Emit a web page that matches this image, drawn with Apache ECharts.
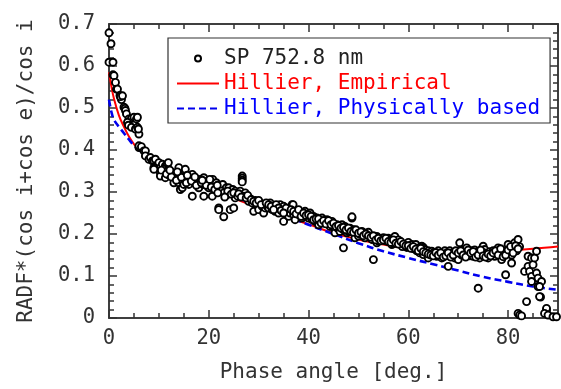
<!DOCTYPE html>
<html><head><meta charset="utf-8">
<script src="https://cdn.jsdelivr.net/npm/echarts@6/dist/echarts.min.js"></script>
<style>html,body{margin:0;padding:0;background:#fff}#c{width:561px;height:389px}</style>
</head><body><div id="c"></div>
<script>
const phaseRange = [0, 90];
const radfRange = [0, 0.7];
const seriesNames = ['SP 752.8 nm', 'Hillier, Empirical', 'Hillier, Physically based'];
const xTitle = 'Phase angle [deg.]';
const yTitle = 'RADF*(cos i+cos e)/cos i';

// observed points [phase angle, RADF*(cos i+cos e)/cos i]
const sp752 = [
[0,0.679],[0.4,0.653],[0,0.609],[0.8,0.609],[0.8,0.579],[1,0.577],[1.3,0.561],[1.5,0.545],[1.7,0.545],[2.2,0.53],[2.4,0.524],[2.5,0.52],[2.3,0.527],[2.7,0.529],
[3,0.502],[3.2,0.499],[3.3,0.494],[3.5,0.486],[4,0.474],[4.5,0.475],[5,0.478],[5.5,0.474],[5.7,0.478],[3.7,0.466],[3.9,0.459],[4.5,0.454],[5.3,0.45],[5.7,0.454],[6,0.438],[5.9,0.45],
[6,0.406],[6,0.41],[6.5,0.408],[7,0.398],[7.3,0.398],[7.3,0.386],[8,0.378],[8.3,0.382],[8.7,0.374],[9,0.374],[9.3,0.378],[9.3,0.362],[9.7,0.362],[10,0.37],[10.3,0.358],[10.7,0.366],[11.3,0.362],[11.7,0.366],[11.9,0.37],
[9,0.358],[9,0.354],[10.3,0.346],[11,0.35],[11,0.354],[11.3,0.346],[11.7,0.35],[12.3,0.346],[10.3,0.338],[11.3,0.334],[12,0.34],[12.7,0.346],[12.8,0.338],[13.3,0.342],[13.3,0.334],[13.8,0.33],[14,0.342],[14,0.358],
[13,0.322],[14,0.322],[14.3,0.306],[14.7,0.326],[14.7,0.31],[15,0.336],[15,0.318],[15.3,0.33],[15.3,0.354],[15.8,0.328],[16,0.318],[16.3,0.334],[16.3,0.338],[16.7,0.342],[16.7,0.29],[17,0.33],[17.3,0.322],[17.8,0.326],
[18,0.31],[18.3,0.33],[18.8,0.318],[19,0.334],[19,0.29],[19.3,0.322],[19.8,0.326],[20,0.31],[20.3,0.322],[20.7,0.29],[20.8,0.33],[21,0.318],[21.5,0.322],[22,0.31],[22.3,0.314],[22.8,0.318],[23.3,0.306],[23.5,0.31],[23.7,0.294],
[24,0.31],[24.3,0.302],[24.8,0.306],[25.3,0.302],[25.3,0.286],[25.6,0.296],[22,0.262],[22,0.258],[24.3,0.258],[25,0.262],[23,0.241],
[26.7,0.338],[26.7,0.333],[26.7,0.328],[26.7,0.324],[26.3,0.302],[27.3,0.298],[27,0.29],[28,0.278],[28.3,0.284],[28.7,0.274],[29,0.254],[29.3,0.28],[29.7,0.27],[30,0.258],[30.3,0.274],[30.7,0.266],
[31,0.27],[31,0.25],[31.3,0.262],[31.7,0.266],[32,0.262],[32.3,0.274],[32.7,0.258],[33,0.266],[33.3,0.254],[33.7,0.262],[34,0.25],[34.3,0.27],[34.7,0.262],[35,0.23],[35,0.266],[35.3,0.258],[35.7,0.25],
[36,0.242],[36,0.258],[36.3,0.25],[36.7,0.27],[36.9,0.27],[37,0.246],[37.3,0.234],[37.7,0.254],[38,0.246],[38.3,0.25],[38.7,0.238],[39,0.242],[39.3,0.254],[39.7,0.246],[40,0.238],[40.3,0.25],[40.7,0.234],
[41,0.242],[41.3,0.23],[41.7,0.238],[42,0.222],[42.3,0.23],[42.7,0.238],[43,0.226],[43.3,0.23],[43.7,0.234],[44,0.226],[44.3,0.218],[44.7,0.23],[44.7,0.226],[45.3,0.21],[45.3,0.203],[45.7,0.222],[45.7,0.215],
[46,0.212],[46.3,0.206],[46.7,0.222],[47,0.21],[47,0.167],[47.3,0.218],[47.7,0.203],[48,0.206],[48.3,0.214],[48.7,0.238],[48.7,0.241],[49,0.21],[49.3,0.191],[49.7,0.203],[50,0.195],[50.3,0.199],[50.7,0.206],
[51,0.203],[51.3,0.191],[51.7,0.198],[52,0.204],[52.3,0.195],[52.7,0.187],[53,0.139],[53.3,0.19],[53.7,0.194],[53.7,0.179],[54,0.183],[54.3,0.187],[55,0.191],[55.3,0.184],[55.7,0.183],[56,0.19],[56.3,0.187],
[56.7,0.175],[57,0.178],[57.3,0.194],[57.7,0.183],[58,0.186],[58.3,0.179],[58.8,0.17],[59.3,0.175],[59.7,0.168],[60,0.18],[60.3,0.172],[60.7,0.175],[61,0.165],[61.3,0.171],[61.5,0.175],[61.7,0.16],[62,0.167],
[62.3,0.162],[62.3,0.155],[62.7,0.171],[62.8,0.158],[63,0.151],[63,0.168],[63.3,0.163],[64,0.16],[64,0.143],[64.7,0.159],[65,0.155],[65.7,0.147],[66,0.16],[66.3,0.152],[66.7,0.143],[67,0.15],[67.3,0.16],
[67.7,0.155],[68,0.123],[68.3,0.16],[68.7,0.151],[69,0.156],[69.3,0.143],[69.7,0.152],[70,0.139],[70.3,0.179],[70.7,0.15],[71,0.162],[71.3,0.158],[71.7,0.167],[72,0.155],[72.3,0.148],[72.7,0.16],[73,0.147],
[73.3,0.162],[73.7,0.155],[74,0.158],[74,0.071],[74.3,0.143],[74.7,0.15],[75,0.171],[75.3,0.163],[75.3,0.155],[75.7,0.152],[76,0.143],[76.3,0.158],[76.7,0.155],[77,0.16],[77.3,0.147],[77.7,0.152],[78,0.167],
[78.3,0.159],[78.7,0.139],[79,0.155],[79.5,0.103],[79.7,0.16],[80,0.175],[80.3,0.155],[80.7,0.131],[80.7,0.15],[81,0.167],[81.3,0.179],[81.7,0.16],[82,0.187],[82.3,0.17],
[82,0.011],[82.3,0.007],[82.7,0.005],[83.7,0.039],[83.3,0.111],[84,0.123],[84,0.147],[84.3,0.111],[84.7,0.099],[84.7,0.143],[85,0.127],[85.3,0.143],[84.7,0.087],[85.7,0.107],[85.7,0.159],
[86,0.095],[86,0.075],[86.7,0.087],[86.3,0.075],[86.5,0.05],[86.3,0.051],[87.7,0.019],[87.7,0.023],[87.3,0.011],[88,0.007],[89,0.003],[89.7,0.003],
[10.5,0.352],[11.5,0.343],[12.5,0.336],[13.5,0.328],[14.5,0.335],[15.5,0.322],[16.5,0.326],[17.5,0.316],[18.5,0.322],[19.5,0.316],[20.5,0.312],[21.2,0.306],[12.2,0.352],[13.7,0.348],[15.7,0.34],[17.2,0.336],[18.7,0.328],[20.2,0.33],[21.7,0.316],
[22.5,0.302],[23,0.298],[23.8,0.302],[24.5,0.295],[25,0.298],[25.8,0.29],[26,0.296],[26.5,0.288],[27.5,0.286],[27.8,0.292],[28.5,0.282],[29,0.278],[29.5,0.274],[30,0.28],[21.8,0.298],[23.2,0.288],
[30.5,0.27],[31.5,0.274],[32,0.27],[32.5,0.266],[33.5,0.27],[34,0.262],[34.5,0.256],[35.5,0.262],[36.5,0.258],[37,0.254],[37.5,0.248],[38,0.258],[38.5,0.242],[39,0.25],[39.5,0.244],[40,0.246],[33,0.258],[35,0.25],
[40.5,0.242],[41,0.234],[41.5,0.236],[42,0.236],[42.5,0.226],[43,0.232],[43.5,0.224],[44,0.232],[44.5,0.222],[45,0.226],[45.5,0.218],[46,0.22],[46.5,0.214],[47,0.216],[47.5,0.21],[48,0.214],[48.5,0.206],[49,0.204],[49.5,0.21],[50,0.202],
[50.5,0.205],[51,0.196],[51.5,0.2],[52,0.196],[52.5,0.192],[53,0.196],[53.5,0.186],[54,0.19],[54.5,0.184],[55,0.186],[55.5,0.19],[56,0.182],[56.5,0.18],[57,0.186],[57.5,0.178],[58,0.176],[58.5,0.182],[59,0.176],[59.5,0.172],[60,0.172],
[60.5,0.166],[61,0.17],[61.5,0.164],[62,0.16],[62.5,0.166],[63,0.158],[63.5,0.155],[64,0.152],[64.5,0.15],[65,0.148],[65.5,0.156],[66,0.15],[66.5,0.155],[67,0.145],[67.5,0.148],[68,0.155],[68.5,0.145],[69,0.15],[69.5,0.16],[70,0.155],
[70.5,0.16],[71,0.15],[71.5,0.145],[72,0.162],[72.5,0.155],[73,0.158],[73.5,0.145],[74,0.15],[74.5,0.162],[75,0.148],[75.5,0.145],[76,0.152],[76.5,0.148],[77,0.155],[77.5,0.16],[78,0.15],[78.5,0.165],[79,0.146],[79.5,0.15],[80,0.162],[80.5,0.17],[81,0.155],[81.5,0.172],[82,0.165]
];

// model curves [phase angle, value]
const hillierEmpirical = [
[0,0.585],[0.5,0.55],[1,0.522],[2,0.482],[3,0.455],[4,0.432],[5,0.414],[6,0.401],[7,0.39],[8,0.381],[10,0.367],[12,0.354],[14,0.342],[16,0.33],
[18,0.318],[20,0.308],[25,0.285],[30,0.263],[35,0.243],[40,0.223],[45,0.202],[50,0.187],[55,0.175],[60,0.165],[65,0.159],[70,0.157],[75,0.158],[80,0.161],[85,0.165],[90,0.17]
];
const hillierPhysical = [
[0,0.52],[0.5,0.49],[1,0.472],[2,0.455],[3,0.44],[4,0.425],[5,0.411],[6,0.4],[7,0.391],[8,0.383],[10,0.369],[12,0.358],[15,0.341],[20,0.314],
[25,0.29],[30,0.267],[35,0.245],[40,0.222],[45,0.2],[50,0.178],[55,0.159],[60,0.143],[65,0.128],[70,0.113],[75,0.098],[80,0.086],[85,0.075],[90,0.067]
];

const FONT = 'DejaVu Sans Mono';
const AX = '#333';
const chart = echarts.init(document.getElementById('c'), null, {renderer: 'canvas'});

function xAx(pos, interval, len, labels) {
  return {
    type: 'value', gridIndex: 0, position: pos, min: phaseRange[0], max: phaseRange[1], interval: interval,
    axisLine: {show: true, onZero: false, lineStyle: {color: AX, width: 1.5}},
    axisTick: {show: true, inside: true, length: len, lineStyle: {color: AX, width: 1.5}},
    splitLine: {show: false},
    axisLabel: labels ? {
      show: true, margin: 10, color: '#333', fontFamily: FONT, fontSize: 20.5,
      formatter: v => (Math.abs(v / 20 - Math.round(v / 20)) < 1e-6 ? String(Math.round(v)) : '')
    } : {show: false}
  };
}
function yAx(pos, interval, len, labels) {
  return {
    type: 'value', gridIndex: 0, position: pos, min: radfRange[0], max: radfRange[1], interval: interval,
    axisLine: {show: true, onZero: false, lineStyle: {color: AX, width: 1.5}},
    axisTick: {show: true, inside: true, length: len, lineStyle: {color: AX, width: 1.5}},
    splitLine: {show: false},
    axisLabel: labels ? {
      show: true, margin: 14, color: '#333', fontFamily: FONT, fontSize: 20.5, padding: [0, 0, 12, 0],
      formatter: v => (Math.abs(v * 10 - Math.round(v * 10)) < 1e-6 ? String(Math.round(v * 10) / 10) : '')
    } : {show: false}
  };
}

const xMain = xAx('bottom', 5, 5, true);
xMain.name = xTitle; xMain.nameLocation = 'middle'; xMain.nameGap = 44;
xMain.nameTextStyle = {fontFamily: FONT, fontSize: 21, color: '#333'};
const yMain = yAx('left', 0.02, 5, true);
yMain.name = yTitle; yMain.nameLocation = 'middle'; yMain.nameGap = 72;
yMain.nameTextStyle = {fontFamily: FONT, fontSize: 21, color: '#333'};

const option = {
  animation: false,
  backgroundColor: '#fff',
  grid: {left: 109, top: 24, width: 451, height: 294, containLabel: false},
  xAxis: [xMain, xAx('bottom', 20, 8, false), xAx('top', 5, 5, false), xAx('top', 20, 8, false)],
  yAxis: [yMain, yAx('left', 0.1, 8, false), yAx('right', 0.02, 5, false), yAx('right', 0.1, 8, false)],
  legend: {
    orient: 'vertical', left: 168, top: 38, itemWidth: 42, itemHeight: 6, itemGap: 0,
    padding: [8, 10, 2, 8], borderColor: '#333', borderWidth: 1.2, backgroundColor: '#fff',
    selectedMode: false, z: 10,
    textStyle: {fontFamily: FONT, fontSize: 21, lineHeight: 25},
    data: [
      {name: seriesNames[0], textStyle: {color: '#222'}},
      {name: seriesNames[1], textStyle: {color: '#ff0000'}, itemStyle: {opacity: 0}},
      {name: seriesNames[2], textStyle: {color: '#0000ff'}, itemStyle: {opacity: 0}}
    ]
  },
  series: [
    {
      name: seriesNames[1], type: 'line', xAxisIndex: 0, yAxisIndex: 0, data: hillierEmpirical,
      smooth: 0.4, symbol: 'none', z: 2,
      lineStyle: {color: '#ff0000', width: 2}, itemStyle: {color: '#ff0000'}
    },
    {
      name: seriesNames[2], type: 'line', xAxisIndex: 0, yAxisIndex: 0, data: hillierPhysical,
      smooth: 0.4, symbol: 'none', z: 2,
      lineStyle: {color: '#0000ee', width: 2.6, type: [7, 4]}, itemStyle: {color: '#0000ee'}
    },
    {
      name: seriesNames[0], type: 'scatter', xAxisIndex: 0, yAxisIndex: 0, data: sp752,
      symbol: 'circle', symbolSize: 7, z: 3,
      itemStyle: {color: '#ffffff', borderColor: '#000000', borderWidth: 1.9, opacity: 1}
    }
  ]
};
chart.setOption(option);
</script>
</body></html>
